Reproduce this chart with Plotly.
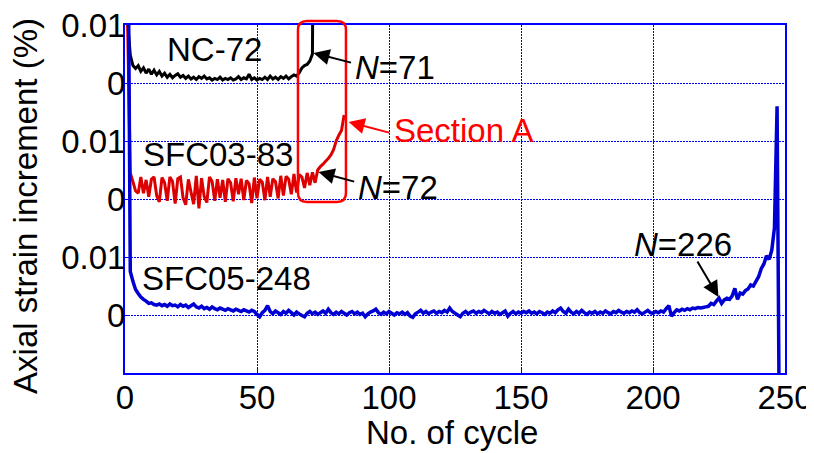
import plotly.graph_objects as go

# ---------------- data (axial strain increment, %, per cycle) ----------------
nc72 = [
    0.0105, 0.0048, 0.0030, 0.0025, 0.0030, 0.0020, 0.0026, 0.0017, 0.0024, 0.0015,
    0.0022, 0.0014, 0.0020, 0.0012, 0.0017, 0.0010, 0.0015, 0.0009, 0.0013, 0.0016,
    0.0010, 0.0013, 0.0008, 0.0012, 0.0007, 0.0010, 0.0006, 0.0011, 0.0008, 0.0012,
    0.0007, 0.0009, 0.0005, 0.0008, 0.0006, 0.0010, 0.0005, 0.0008, 0.0006, 0.0009,
    0.0005, 0.0007, 0.0011, 0.0006, 0.0009, 0.0007, 0.0015, 0.0006, 0.0009, 0.0005,
    0.0008, 0.0006, 0.0010, 0.0006, 0.0012, 0.0007, 0.0010, 0.0006, 0.0011, 0.0008,
    0.0012, 0.0007, 0.0011, 0.0014, 0.0012, 0.0018, 0.0026, 0.0030, 0.0032, 0.0038,
    0.0050, 0.0800,
]

sfc03_83 = [
    0.0300, 0.0045, 0.0030, 0.0014, 0.0010, 0.0038, 0.0010, 0.0033, 0.0004, 0.0034,
    0.0038, 0.0006, -0.0005, 0.0037, 0.0028, -0.0003, 0.0038, 0.0030, -0.0008, 0.0035,
    0.0038, 0.0002, -0.0010, 0.0034, 0.0012, -0.0009, 0.0040, -0.0016, 0.0036, 0.0004,
    -0.0006, 0.0038, 0.0030, -0.0003, 0.0034, 0.0002, 0.0033, -0.0005, 0.0035, 0.0028,
    -0.0004, 0.0036, 0.0008, 0.0035, -0.0002, 0.0032, 0.0026, -0.0007, 0.0037, 0.0001,
    0.0034, 0.0029, -0.0002, 0.0038, 0.0004, 0.0035, 0.0030, 0.0001, 0.0040, 0.0006,
    0.0039, 0.0034, 0.0008, 0.0043, 0.0011, 0.0042, 0.0038, 0.0019, 0.0045, 0.0024,
    0.0046, 0.0028, 0.0050, 0.0056, 0.0060, 0.0065, 0.0070, 0.0076, 0.0085, 0.0100,
    0.0110, 0.0118, 0.0145,
]

sfc05_248 = [
    0.0800, 0.0075, 0.0058, 0.0044, 0.0037, 0.0031, 0.0027, 0.0024, 0.0020, 0.0021,
    0.0018, 0.0017, 0.0019, 0.0016, 0.0018, 0.0015, 0.0019, 0.0016, 0.0017, 0.0014,
    0.0018, 0.0015, 0.0017, 0.0013, 0.0016, 0.0019, 0.0014, 0.0012, 0.0015, 0.0011,
    0.0013, 0.0010, 0.0014, 0.0011, 0.0009, 0.0012, 0.0010, 0.0008, 0.0011, 0.0009,
    0.0007, 0.0010, 0.0008, 0.0006, 0.0009, 0.0007, 0.0005, 0.0008, 0.0006, 0.0001,
    -0.0003, 0.0004, 0.0008, 0.0016, 0.0006, 0.0002, 0.0007, 0.0004, 0.0001, 0.0006,
    0.0003, 0.0008, 0.0004, 0.0000, 0.0005, 0.0002, -0.0001, -0.0003, 0.0003, 0.0006,
    0.0002, 0.0005, 0.0001, 0.0004, 0.0007, 0.0003, 0.0010, 0.0004, 0.0001, 0.0005,
    0.0002, 0.0006, 0.0003, 0.0000, 0.0004, 0.0006, 0.0002, 0.0005, 0.0001, 0.0003,
    -0.0003, 0.0002, 0.0005, 0.0007, 0.0010, 0.0004, 0.0001, 0.0005, 0.0002, 0.0006,
    0.0003, 0.0000, 0.0004, 0.0002, 0.0005, 0.0001, 0.0004, -0.0002, -0.0004, 0.0002,
    0.0005, 0.0008, 0.0003, 0.0006, 0.0002, 0.0005, 0.0007, 0.0003, 0.0006, 0.0004,
    0.0008, 0.0005, 0.0012, 0.0006, 0.0003, 0.0000, -0.0003, 0.0003, 0.0006, 0.0002,
    0.0005, 0.0007, 0.0003, 0.0006, 0.0004, 0.0008, 0.0005, 0.0002, 0.0006, 0.0003,
    0.0005, 0.0001, 0.0004, 0.0007, -0.0002, 0.0003, 0.0006, 0.0002, 0.0005, 0.0003,
    0.0006, 0.0004, 0.0007, 0.0003, 0.0005, 0.0002, 0.0006, 0.0004, 0.0001, 0.0005,
    0.0003, 0.0007, 0.0004, 0.0009, 0.0012, 0.0006, 0.0003, 0.0010, 0.0005, 0.0002,
    0.0006, 0.0003, 0.0008, 0.0004, 0.0001, 0.0005, 0.0003, 0.0006, 0.0002, 0.0005,
    0.0003, 0.0007, 0.0004, 0.0002, 0.0006, 0.0004, 0.0008, 0.0005, 0.0003, 0.0006,
    0.0004, 0.0007, 0.0005, 0.0009, 0.0004, 0.0002, 0.0005, 0.0008, 0.0004, 0.0003,
    0.0006, 0.0004, 0.0007, 0.0005, 0.0011, 0.0016, -0.0002, 0.0004, 0.0009, 0.0007,
    0.0010, 0.0008, 0.0011, 0.0009, 0.0012, 0.0011, 0.0013, 0.0012, 0.0013, 0.0014,
    0.0015, 0.0020, 0.0018, 0.0024, 0.0029, 0.0020, 0.0026, 0.0029, 0.0027, 0.0033,
    0.0046, 0.0027, 0.0038, 0.0036, 0.0042, 0.0045, 0.0052, 0.0050, 0.0058, 0.0066,
    0.0080, 0.0088, 0.0102, 0.0096, 0.0112, 0.0150, 0.0360, -0.0300,
]

series_names = ["NC-72", "SFC03-83", "SFC05-248"]
series_colors = ["#000000", "#dd0000", "#0000d2"]
series_widths = [3, 3, 3.5]
panel_offsets = [0.04, 0.02, 0.0]   # vertical stacking of the three panels

x_ticks = [0, 50, 100, 150, 200, 250]
y_tickvals = [0, 0.01, 0.02, 0.03, 0.04, 0.05]
y_ticktext = ["0", "0.01", "0", "0.01", "0", "0.01"]

FONT = "Liberation Sans, Arial, sans-serif"
FS = 33
GRID = "#0000ff"

fig = go.Figure()
for name, vals, col, w, off in zip(series_names, [nc72, sfc03_83, sfc05_248],
                                   series_colors, series_widths, panel_offsets):
    fig.add_trace(go.Scatter(
        x=list(range(1, len(vals) + 1)),
        y=[v + off for v in vals],
        mode="lines",
        name=name,
        line=dict(color=col, width=w, simplify=False),
        showlegend=False,
    ))

annots = []
# series labels
for txt, x, y in [("NC-72", 34.0, 0.0458), ("SFC03-83", 35.4, 0.0276),
                  ("SFC05-248", 38.6, 0.0063)]:
    annots.append(dict(x=x, y=y, xref="x", yref="y", text=txt, showarrow=False,
                       font=dict(size=FS, color="black", family=FONT)))
# N labels
for txt, x, y, col in [("<i>N</i>=71", 102.2, 0.0427, "black"),
                       ("Section A", 128.2, 0.0318, "#ff0000"),
                       ("<i>N</i>=72", 103.5, 0.0220, "black"),
                       ("<i>N</i>=226", 211.4, 0.0121, "black")]:
    annots.append(dict(x=x, y=y, xref="x", yref="y", text=txt, showarrow=False,
                       font=dict(size=FS, color=col, family=FONT)))
# arrows (head x,y ; tail ax,ay)
for hx, hy, tx, ty, col in [(71.4, 0.04517, 86.2, 0.04345, "black"),
                            (84.7, 0.03328, 100.6, 0.03138, "#ff0000"),
                            (73.3, 0.02466, 87.4, 0.02293, "black"),
                            (224.8, 0.0031, 216.5, 0.00948, "black")]:
    annots.append(dict(x=hx, y=hy, xref="x", yref="y", ax=tx, ay=ty,
                       axref="x", ayref="y", text="", showarrow=True,
                       arrowhead=2, arrowsize=1.6, arrowwidth=2, arrowcolor=col,
                       standoff=0, startstandoff=0))
# axis titles
annots.append(dict(x=0.495, y=-0.17, xref="paper", yref="paper",
                   text="No. of cycle", showarrow=False,
                   xanchor="center", yanchor="middle",
                   font=dict(size=FS, color="black", family=FONT)))
annots.append(dict(x=-0.15, y=0.48, xref="paper", yref="paper",
                   text="Axial strain increment (%)", showarrow=False,
                   textangle=-90, xanchor="center", yanchor="middle",
                   font=dict(size=FS, color="black", family=FONT)))

# red rounded box (Section A) in paper coordinates
x0, x1, yb, yt = 0.2621, 0.3348, 0.4914, 1.0115
rx, ry = 0.0136, 0.0259
path = (f"M {x0+rx},{yb} L {x1-rx},{yb} Q {x1},{yb} {x1},{yb+ry} "
        f"L {x1},{yt-ry} Q {x1},{yt} {x1-rx},{yt} L {x0+rx},{yt} "
        f"Q {x0},{yt} {x0},{yt-ry} L {x0},{yb+ry} Q {x0},{yb} {x0+rx},{yb} Z")

# page body has an 8px margin, so the figure is 8px smaller than the window
fig.update_layout(
    width=806, height=445,
    margin=dict(l=117, r=29, t=17, b=80, autoexpand=False),
    paper_bgcolor="white", plot_bgcolor="white",
    font=dict(family=FONT, size=FS, color="black"),
    annotations=annots,
    shapes=[dict(type="path", path=path, xref="paper", yref="paper",
                 line=dict(color="#ff0000", width=2.5))],
)
fig.update_xaxes(
    range=[0, 250], tickvals=x_ticks, ticks="inside", ticklen=5,
    tickcolor=GRID, showgrid=True, gridcolor=GRID, griddash="2px,1px",
    gridwidth=1.3, showline=True, linecolor=GRID, linewidth=2, mirror=True,
    zeroline=False, tickfont=dict(size=FS), automargin=False,
    ticklabeloverflow="allow", ticklabelstandoff=-6,
)
fig.update_yaxes(
    range=[-0.01, 0.05], tickvals=y_tickvals, ticktext=y_ticktext,
    ticks="inside", ticklen=5, tickcolor=GRID,
    showgrid=True, gridcolor=GRID, griddash="2px,1px", gridwidth=1.3,
    showline=True, linecolor=GRID, linewidth=2, mirror=True,
    zeroline=False, tickfont=dict(size=FS), automargin=False,
    ticklabeloverflow="allow", ticklabelstandoff=-9,
)

fig.write_html("out.html")
